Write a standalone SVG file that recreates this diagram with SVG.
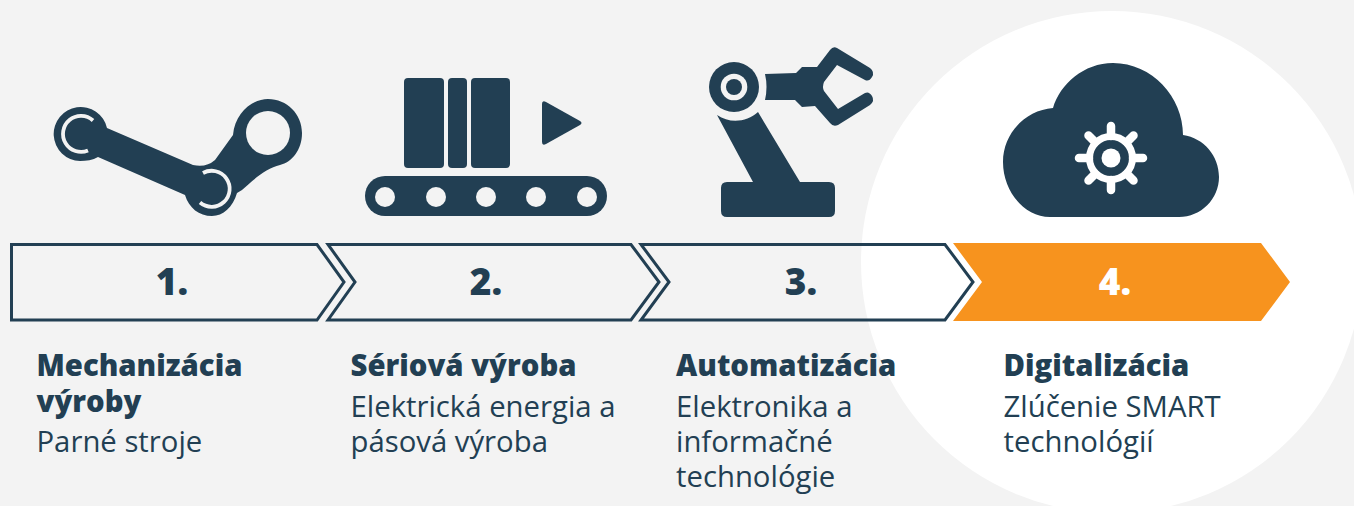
<svg xmlns="http://www.w3.org/2000/svg" width="1354" height="506" viewBox="0 0 1354 506">
<style>
.i{fill:#223f53}
.a{fill:none;stroke:#223f53;stroke-width:3}
.n{font:800 37px "Open Sans",sans-serif;fill:#223f53;text-anchor:middle}
.h{font:800 29.300px "Open Sans",sans-serif;fill:#223f53}
.t{font:400 29.300px "Open Sans",sans-serif;fill:#223f53}
</style>
<rect width="1354" height="506" fill="#f3f3f3"/>
<circle cx="1112" cy="262" r="251" fill="#fff"/>
<g id="connectors"></g>
<g id="icon-1">
<path class="i" d="M107 128L193 165Q206 168 215 160L233 135C235 113 252 99 268 99C287 99 302 114 302 133C302 150 292 162 280 165C266 168 252 181 242 190L237 193C233 207 223 216 212 216C199 216 189 208 185 195L98 157C93 160 86 161 80 161A27 27 0 1 1 107 128Z"/>
<circle cx="268" cy="133" r="22" fill="#f3f3f3"/>
<path d="M93 120.500A18 18 0 1 0 88 150.500" fill="none" stroke="#f3f3f3" stroke-width="3.800"/>
<path d="M203 173A18 18 0 1 1 200 202.500" fill="none" stroke="#f3f3f3" stroke-width="3.800"/>
</g>
<g id="icon-2">
<rect class="i" x="404" y="78" width="40" height="90" rx="4"/>
<rect class="i" x="448" y="78" width="19" height="90" rx="4"/>
<rect class="i" x="471" y="78" width="39" height="90" rx="4"/>
<path class="i" d="M542 104Q542 100 546 102L580 121Q583 123 580 125L546 144Q542 146 542 142Z"/>
<rect class="i" x="365" y="176" width="242" height="40" rx="20"/>
<g fill="#f3f3f3"><circle cx="385" cy="197" r="10"/><circle cx="436" cy="197" r="10"/><circle cx="486" cy="197" r="10"/><circle cx="536" cy="197" r="10"/><circle cx="587" cy="197" r="10"/></g>
</g>
<g id="icon-3">
<circle class="i" cx="734" cy="87" r="25"/>
<circle cx="734" cy="87" r="13.300" fill="#f3f3f3"/>
<circle class="i" cx="734" cy="87" r="8"/>
<path class="i" d="M717 115C730 124 747 122 758 112L800 182H829Q835 182 835 188V211Q835 217 829 217H727Q721 217 721 211V188Q721 182 727 182H753Z"/>
<path class="i" d="M765 74L796 73L802 67L817 67L830 50Q833 46 837 48L870 68Q875 72 872 77Q869 82 865 80L837 65L824 82Q822 87 824 91L838 109L865 93Q869 91 872 96Q875 101 870 105L838 125Q833 127 830 123L815 106L802 107L795 100H765Q768 87 765 74Z"/>
</g>
<g id="icon-4">
<path class="i" d="M1053 108C1060 84 1084 63 1113 63C1152 63 1183 97 1183 135C1204 138 1219 156 1219 177C1219 199 1201 217 1179 217H1050C1024 217 1003 191 1003 162C1003 133 1026 110 1053 108Z"/>
<circle cx="1111" cy="158" r="21.500" fill="none" stroke="#fff" stroke-width="7"/>
<path fill="none" stroke="#fff" stroke-width="8.500" stroke-linecap="round" d="M1111 136V126M1111 180V190M1089 158H1079M1133 158H1143M1095 142L1088.500 135.500M1127 174L1133.500 180.500M1127 142L1133.500 135.500M1095 174L1088.500 180.500"/>
<circle cx="1111" cy="158" r="9.500" fill="#fff"/>
</g>
<g id="step-1"><path class="a" d="M11.500 244.500H317L344 282L317 320H11.500Z"/><text class="n" x="172" y="295">1.</text></g>
<g id="step-2"><path class="a" d="M328 244.500H631L659 282L631 320H328L355 282Z"/><text class="n" x="486" y="295">2.</text></g>
<g id="step-3"><path class="a" d="M641 244.500H945L973 282L945 320H641L669 282Z"/><text class="n" x="801" y="295">3.</text></g>
<g id="step-4"><path fill="#f7931e" d="M953 243H1261L1290 282L1261 321H953L982 282Z"/><text class="n" style="fill:#fff" x="1115" y="295">4.</text></g>
<g id="text-1"><text class="h" x="36.500" y="376">Mechanizácia</text><text class="h" x="36.500" y="412">výroby</text><text class="t" x="36.500" y="452">Parné stroje</text></g>
<g id="text-2"><text class="h" x="350.500" y="376">Sériová výroba</text><text class="t" x="350.500" y="417">Elektrická energia a</text><text class="t" x="350.500" y="452">pásová výroba</text></g>
<g id="text-3"><text class="h" x="676" y="376">Automatizácia</text><text class="t" x="676" y="417">Elektronika a</text><text class="t" x="676" y="452">informačné</text><text class="t" x="676" y="487">technológie</text></g>
<g id="text-4"><text class="h" x="1003.500" y="376">Digitalizácia</text><text class="t" x="1003.500" y="417">Zlúčenie SMART</text><text class="t" x="1003.500" y="452">technológií</text></g>
</svg>
